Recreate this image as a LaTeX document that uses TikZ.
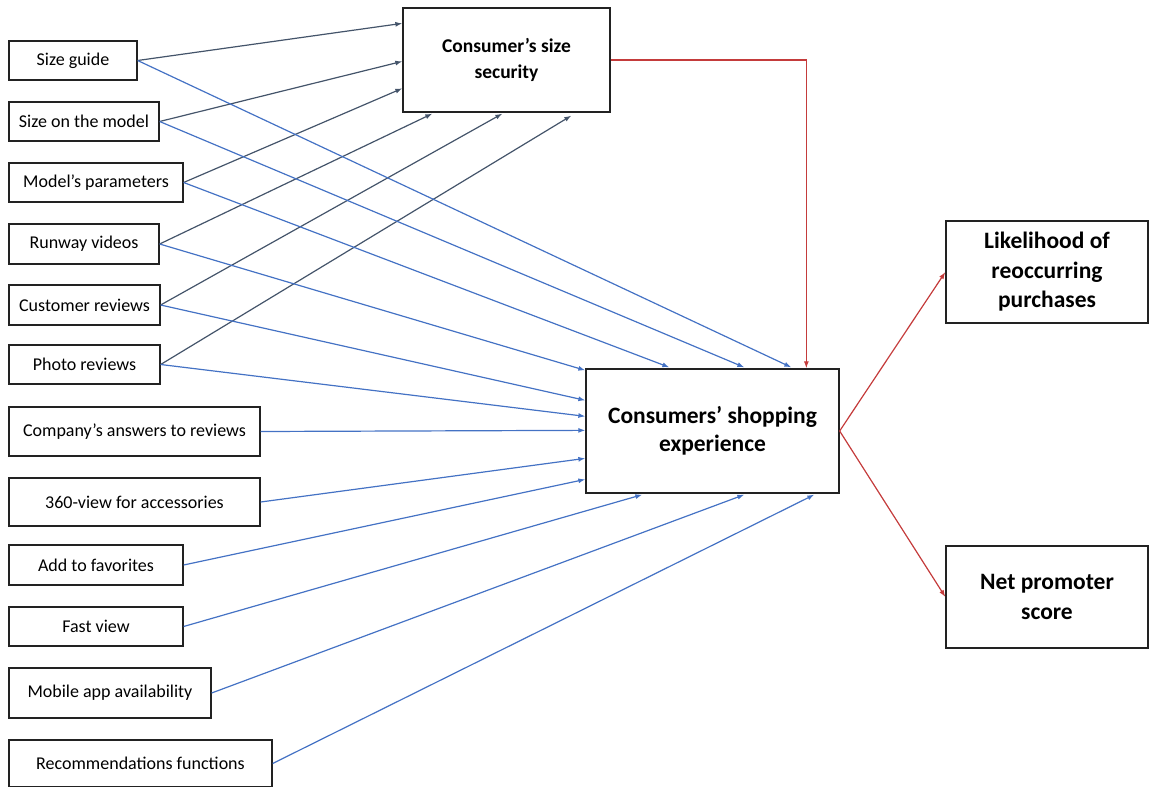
\documentclass[tikz,border=0pt]{standalone}
\usepackage{fontspec}
\setmainfont{Carlito}
\usetikzlibrary{arrows.meta,calc}
\definecolor{linkblue}{HTML}{4472C4}
\definecolor{linkslate}{HTML}{44546A}
\definecolor{linkred}{HTML}{C43B3B}
\definecolor{boxline}{HTML}{222222}
\begin{document}
\begin{tikzpicture}[x=1pt,y=-1pt,
  box/.style={draw=boxline, line width=1.3pt, fill=white, inner sep=0pt, align=center},
  factor/.style={box, font=\fontsize{18}{21}\selectfont},
  mediator/.style={box, font=\bfseries\fontsize{19.5}{26}\selectfont},
  core/.style={box, font=\bfseries\fontsize{23.5}{28}\selectfont},
  outcome/.style={box, font=\bfseries\fontsize{23.5}{29.5}\selectfont},
  link/.style={line width=1.2pt, -{Latex[length=7pt,width=5pt]}},
  tosize/.style={link, draw=linkslate},
  toexp/.style={link, draw=linkblue},
  effect/.style={link, draw=linkred}
]
\useasboundingbox (0,0) rectangle (1149,787);

% input factors on the left
\node[factor, minimum width=128, minimum height=39] (sg) at (73,60.5)   {Size guide};
\node[factor, minimum width=150, minimum height=39] (sm) at (84,121.5)  {Size on the model};
\node[factor, minimum width=174, minimum height=39] (mp) at (96,182.5)  {Model’s parameters};
\node[factor, minimum width=150, minimum height=40] (rv) at (84,244)    {Runway videos};
\node[factor, minimum width=151, minimum height=40] (cr) at (84.5,305)  {Customer reviews};
\node[factor, minimum width=151, minimum height=39] (pr) at (84.5,364.5){Photo reviews};
\node[factor, minimum width=251, minimum height=49] (ca) at (134.5,431.5){Company’s answers to reviews};
\node[factor, minimum width=251, minimum height=48] (sv) at (134.5,502)  {360-view for accessories};
\node[factor, minimum width=174, minimum height=40] (af) at (96,565)    {Add to favorites};
\node[factor, minimum width=174, minimum height=39] (fv) at (96,626.5)  {Fast view};
\node[factor, minimum width=202, minimum height=50] (ma) at (110,693)   {Mobile app availability};
\node[factor, minimum width=263, minimum height=47] (rf) at (140.5,763.5){Recommendations functions};

% mediator, core construct and outcomes
\node[mediator, minimum width=207, minimum height=104] (sec) at (506.5,60) {Consumer’s size\\security};
\node[core, minimum width=253, minimum height=124] (exp) at (712.5,431) {Consumers’ shopping\\experience};
\node[outcome, minimum width=202, minimum height=102] (lik) at (1047,272) {Likelihood of\\reoccurring\\purchases};
\node[outcome, minimum width=202, minimum height=102] (nps) at (1047,597) {Net promoter\\score};

% links into the size-security box
\draw[tosize] (sg.east) -- ([shift={(0,16)}]sec.north west);
\draw[tosize] (sm.east) -- ([shift={(0,54)}]sec.north west);
\draw[tosize] (mp.east) -- ([shift={(0,81)}]sec.north west);
\draw[tosize] (rv.east) -- ([shift={(30,1)}]sec.south west);
\draw[tosize] (cr.east) -- ([shift={(100,1)}]sec.south west);
\draw[tosize] (pr.east) -- ([shift={(169,3)}]sec.south west);

% links into the shopping-experience box
\draw[toexp] (sg.east) -- ([shift={(206,-1)}]exp.north west);
\draw[toexp] (sm.east) -- ([shift={(159,-1)}]exp.north west);
\draw[toexp] (mp.east) -- ([shift={(84,-1)}]exp.north west);
\draw[toexp] (rv.east) -- ([shift={(0,2)}]exp.north west);
\draw[toexp] (cr.east) -- ([shift={(0,32)}]exp.north west);
\draw[toexp] (pr.east) -- ([shift={(0,48)}]exp.north west);
\draw[toexp] (ca.east) -- ([shift={(0,62)}]exp.north west);
\draw[toexp] (sv.east) -- ([shift={(0,90)}]exp.north west);
\draw[toexp] (af.east) -- ([shift={(0,111)}]exp.north west);
\draw[toexp] (fv.east) -- ([shift={(57,1)}]exp.south west);
\draw[toexp] (ma.east) -- ([shift={(159,1)}]exp.south west);
\draw[toexp] (rf.east) -- ([shift={(229,1)}]exp.south west);

% effects
\coordinate (secin) at ([shift={(221,0)}]exp.north west);
\draw[effect] (sec.east) -| (secin);
\draw[effect] (exp.east) -- (lik.west);
\draw[effect] (exp.east) -- (nps.west);
\end{tikzpicture}
\end{document}
